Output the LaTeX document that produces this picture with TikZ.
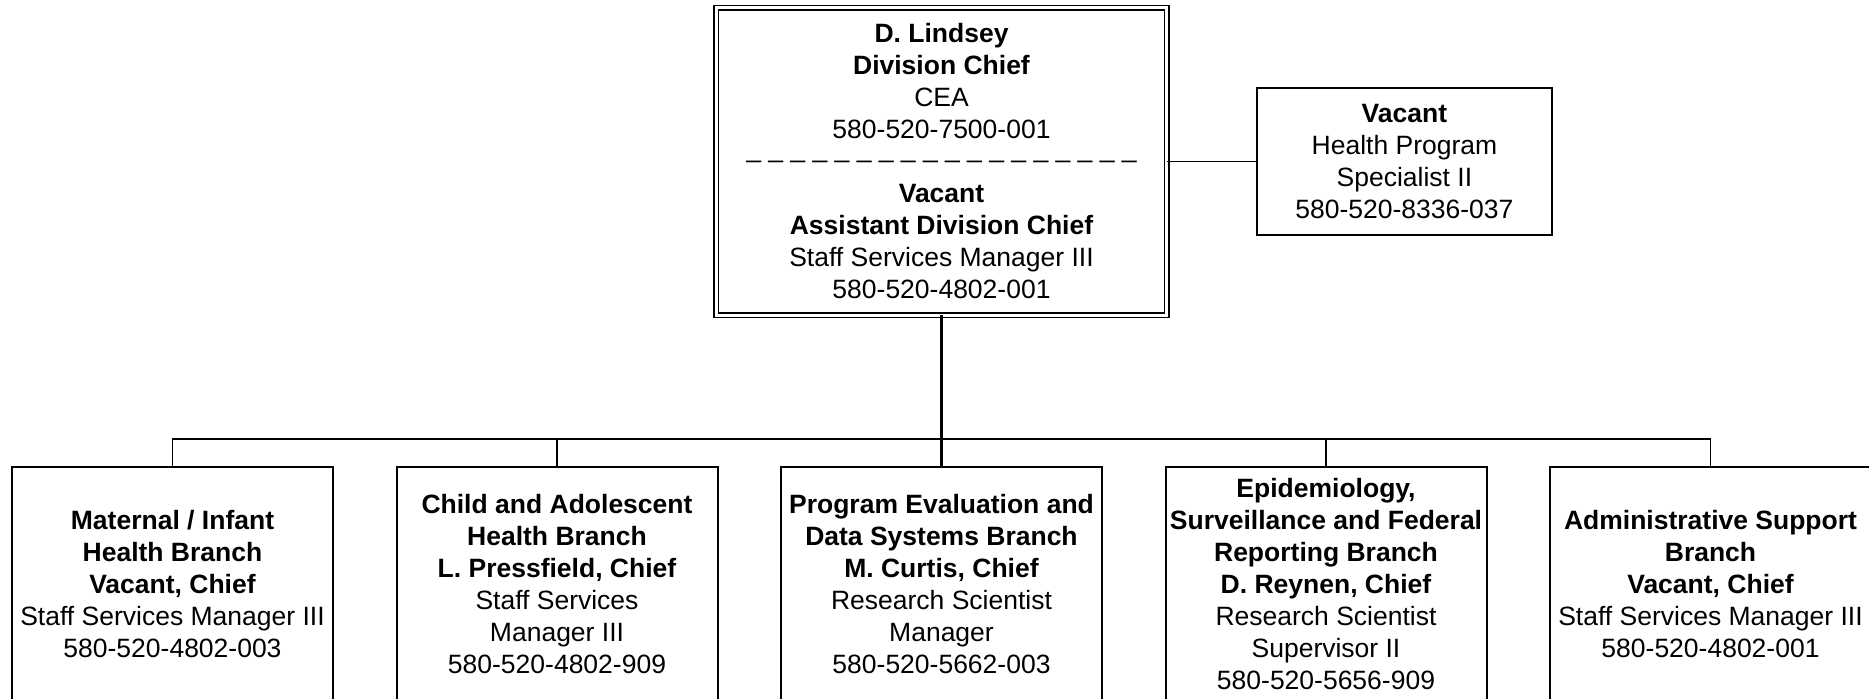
\documentclass[tikz,border=0pt]{standalone}
\usepackage{fontspec}
\setmainfont{Liberation Sans}
\usetikzlibrary{positioning}

\begin{document}
\begin{tikzpicture}[node distance=31.75pt and 31.75pt,
    every node/.style={font=\fontsize{13.25}{16}\selectfont, align=center},
    chief/.style={rectangle, draw, double, line width=0.65pt, double distance=1.7pt, minimum width=225.25pt, minimum height=153.75pt, inner sep=1pt, outer sep=0pt},
    staff/.style={rectangle, draw, line width=1pt, minimum width=147.5pt, minimum height=73.5pt, inner sep=1pt, outer sep=0pt},
    branch/.style={rectangle, draw, line width=1pt, minimum width=160.5pt, minimum height=117pt, inner sep=1pt, outer sep=0pt},
    link/.style={line width=0.7pt}]

\useasboundingbox (0,0) rectangle (934.5pt,-349.5pt);
\clip (0,0) rectangle (934.5pt,-349.5pt);

% Division chief
\node[chief] (chief) at (470.75pt,-80.75pt) {\textbf{D. Lindsey}\\ \textbf{Division Chief}\\ CEA\\ 580-520-7500-001\\
  \raisebox{0.5em}[0pt][0pt]{\_ \_ \_ \_ \_ \_ \_ \_ \_ \_ \_ \_ \_ \_ \_ \_ \_ \_}\\
  \textbf{Vacant}\\ \textbf{Assistant Division Chief}\\ Staff Services Manager III\\ 580-520-4802-001};

% Health program specialist
\node[staff, right=45.1pt of chief] (specialist) {\textbf{Vacant}\\ Health Program\\ Specialist II\\ 580-520-8336-037};

% Branches
\node[branch, below=75.9pt of chief] (evaluation) {\textbf{Program Evaluation and}\\ \textbf{Data Systems Branch}\\ \textbf{M. Curtis, Chief}\\ Research Scientist\\ Manager\\ 580-520-5662-003};
\node[branch, left=of evaluation] (adolescent) {\textbf{Child and Adolescent}\\ \textbf{Health Branch}\\ \textbf{L. Pressfield, Chief}\\ Staff Services\\ Manager III\\ 580-520-4802-909};
\node[branch, left=of adolescent] (maternal) {\textbf{Maternal / Infant}\\ \textbf{Health Branch}\\ \textbf{Vacant, Chief}\\ Staff Services Manager III\\ 580-520-4802-003};
\node[branch, right=of evaluation] (epidemiology) {\textbf{Epidemiology,}\\ \textbf{Surveillance and Federal}\\ \textbf{Reporting Branch}\\ \textbf{D. Reynen, Chief}\\ Research Scientist\\ Supervisor II\\ 580-520-5656-909};
\node[branch, right=of epidemiology] (support) {\textbf{Administrative Support}\\ \textbf{Branch}\\ \textbf{Vacant, Chief}\\ Staff Services Manager III\\ 580-520-4802-001};

% Connectors
\coordinate[above=14pt of evaluation] (bus);
\draw[link] (chief.east) -- (specialist.west);
\draw[link, line width=1.1pt] (chief.south) -- (evaluation.north);
\draw[link] (maternal.north) |- (bus) -| (support.north);
\draw[link] (adolescent.north) -- (adolescent.north |- bus);
\draw[link] (epidemiology.north) -- (epidemiology.north |- bus);

\end{tikzpicture}
\end{document}
